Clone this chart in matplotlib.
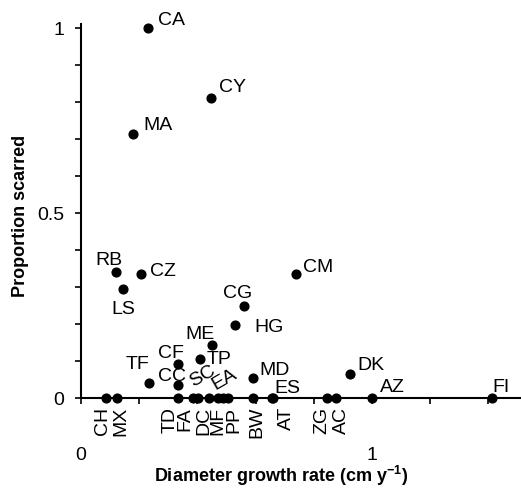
import matplotlib.pyplot as plt
import numpy as np

plt.rcParams['font.family'] = ['Liberation Sans', 'DejaVu Sans']

species = ['CA', 'CY', 'MA', 'RB', 'LS', 'CZ', 'CM', 'CG', 'HG', 'ME', 'TP',
           'CF', 'TF', 'CC', 'MD', 'DK',
           'CH', 'MX', 'TD', 'FA', 'SC', 'DC', 'MF', 'EA', 'PP', 'BW', 'AT',
           'ES', 'ZG', 'AC', 'AZ', 'FI']
growth = [0.231, 0.446, 0.180, 0.119, 0.145, 0.207, 0.739, 0.560, 0.529, 0.451, 0.409,
          0.334, 0.235, 0.334, 0.590, 0.924,
          0.086, 0.123, 0.334, 0.386, 0.403, 0.440, 0.472, 0.489, 0.506, 0.592, 0.661,
          0.655, 0.844, 0.876, 1.001, 1.411]
scarred = [1.0, 0.812, 0.713, 0.340, 0.294, 0.334, 0.335, 0.249, 0.197, 0.143, 0.105,
           0.092, 0.040, 0.035, 0.055, 0.064,
           0, 0, 0, 0, 0, 0, 0, 0, 0, 0, 0,
           0, 0, 0, 0, 0]

# label placement (offset in pixels from the point)
horiz = {'CA': (10, 3), 'CY': (8, 6), 'MA': (10, 4), 'RB': (-20, 7), 'LS': (-12, -25),
         'CZ': (9, -2), 'CM': (7, 2), 'CG': (-21, 8), 'HG': (19, -7), 'ME': (-27, 6),
         'TP': (7, -5), 'CF': (-20, 6), 'TF': (-24, 14), 'CC': (-20, 4), 'MD': (7, 3),
         'DK': (7, 4), 'ES': (3, 5), 'AZ': (8, 6), 'FI': (1, 6)}
vert = {'CH': -4, 'MX': 4, 'TD': -8, 'FA': -8, 'DC': -5, 'MF': 0, 'PP': 6,
        'BW': 4, 'AT': 13, 'ZG': -5, 'AC': 6}
slant = {'SC': (-5, 11), 'EA': (-8, 8)}

fig = plt.figure(figsize=(5.21, 4.88), dpi=100)
ax = fig.add_axes([0.1555, 0.1844, 0.8445, 0.7658])

ax.plot(growth, scarred, 'o', color='black', markersize=6.3, clip_on=False, zorder=5)

fs = 14
for name, x, y in zip(species, growth, scarred):
    if name in horiz:
        ax.annotate(name, (x, y), xytext=horiz[name], textcoords='offset pixels',
                    ha='left', va='baseline', fontsize=fs)
    elif name in vert:
        ax.annotate(name, (x, y), xytext=(vert[name], -9), textcoords='offset pixels',
                    ha='center', va='top', rotation=90, fontsize=fs)
    elif name in slant:
        ax.annotate(name, (x, y), xytext=slant[name], textcoords='offset pixels',
                    ha='left', va='baseline', rotation=30, rotation_mode='anchor',
                    fontsize=fs)

ax.set_xlim(0, 1.512)
ax.set_ylim(0, 1.01)
for s in ['top', 'right']:
    ax.spines[s].set_visible(False)
for s in ['left', 'bottom']:
    ax.spines[s].set_linewidth(1.5)

xt = np.arange(0, 1.5, 0.2)
ax.set_xticks(xt)
ax.set_xticklabels(['0', '', '', '', '', '1', '', ''])
ax.set_yticks(np.arange(0, 1.01, 0.1))
ax.set_yticklabels(['0', '', '', '', '', '0.5', '', '', '', '', '1'])
ax.tick_params(axis='x', length=4, width=1.2, pad=31, labelsize=14)
ax.tick_params(axis='y', length=4, width=1.2, pad=8, labelsize=14)

ax.set_xlabel('Diameter growth rate (cm y$^{\\mathregular{-1}}$)', fontsize=13, fontweight='bold')
ax.xaxis.set_label_coords(0.4545, -0.175)
ax.set_ylabel('Proportion scarred', fontsize=13, fontweight='bold')
ax.yaxis.set_label_coords(-0.118, 0.488)

fig.savefig('out.png', dpi=100)
